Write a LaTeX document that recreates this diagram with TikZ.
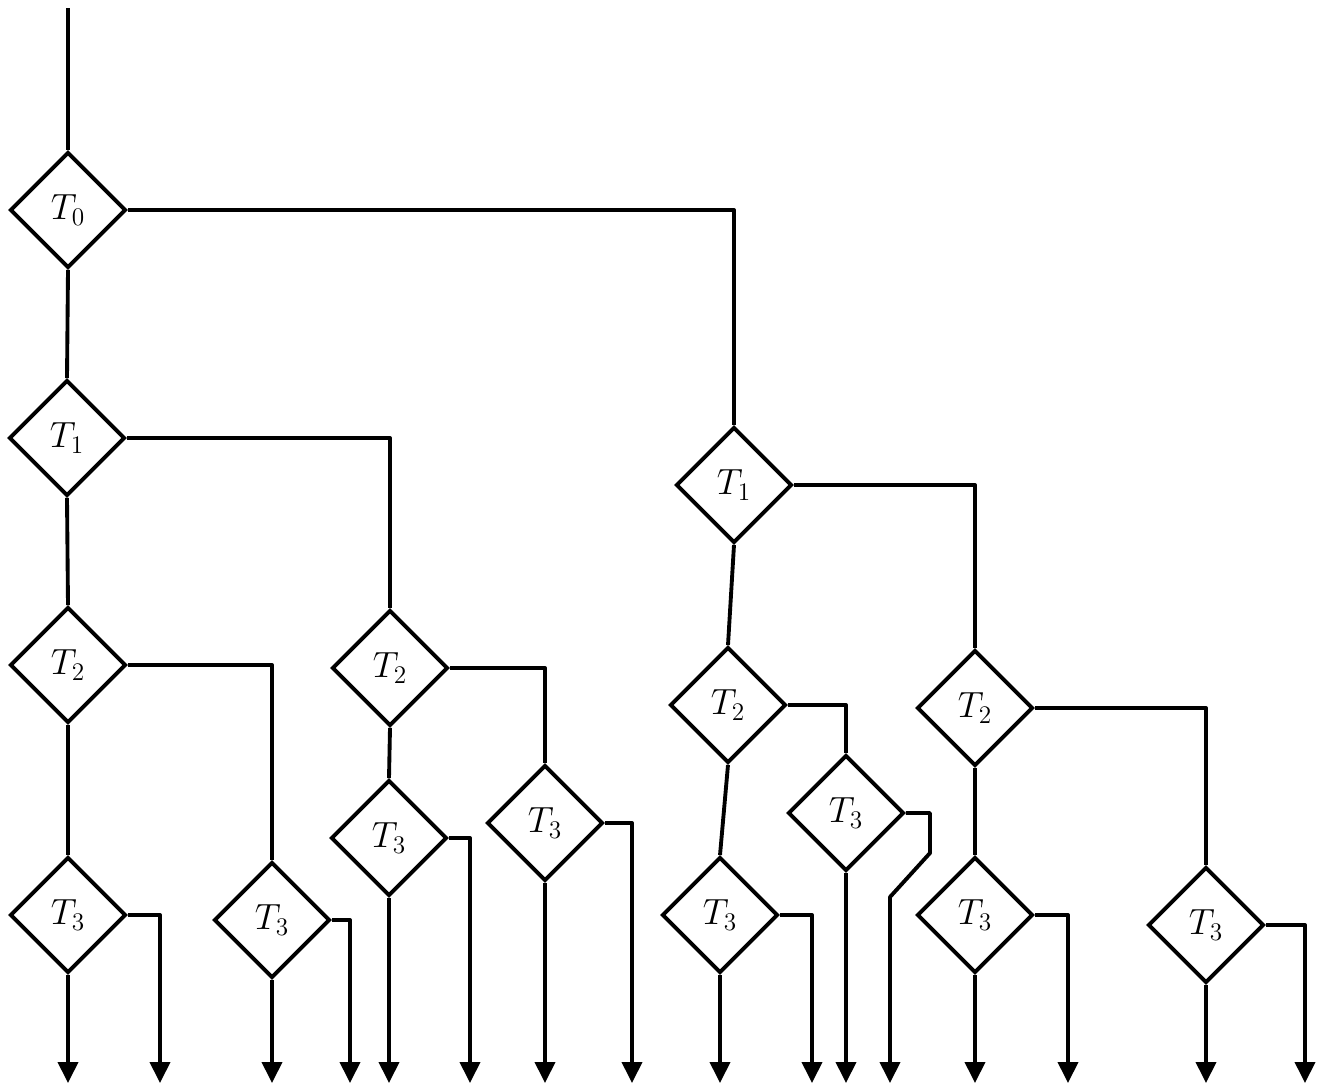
\documentclass[tikz,border=0pt]{standalone}
\usetikzlibrary{shapes.geometric,arrows.meta}
\begin{document}
\begin{tikzpicture}[x=0.02cm,y=-0.02cm,
  test/.style={draw,diamond,line width=2.2pt,minimum width=2.32cm,minimum height=2.32cm,inner sep=0pt,font=\fontsize{22}{26}\selectfont},
  link/.style={line width=2.2pt,line join=round},
  outarrow/.style={link,-{Triangle[width=0.4cm,length=0.42cm]}}]
\useasboundingbox (0,0) rectangle (1332,1089);
% nodes
\node[test] (t0)  at (68,210)  {$T_0$};
\node[test] (t1a) at (67,438)  {$T_1$};
\node[test] (t2a) at (68,665)  {$T_2$};
\node[test] (t3a) at (68,915)  {$T_3$};
\node[test] (t3b) at (272,920) {$T_3$};
\node[test] (t2b) at (390,668) {$T_2$};
\node[test] (t3c) at (389,838) {$T_3$};
\node[test] (t3d) at (545,823) {$T_3$};
\node[test] (t1b) at (734,485) {$T_1$};
\node[test] (t2c) at (728,705) {$T_2$};
\node[test] (t3e) at (720,915) {$T_3$};
\node[test] (t3f) at (846,813) {$T_3$};
\node[test] (t2d) at (975,708) {$T_2$};
\node[test] (t3g) at (975,915) {$T_3$};
\node[test] (t3h) at (1206,925) {$T_3$};
% free ends
\coordinate (top) at (68,8);
\coordinate (e1) at (68,1083);
\coordinate (e2) at (160,1083);
\coordinate (e3) at (272,1083);
\coordinate (e4) at (350,1083);
\coordinate (e5) at (389,1083);
\coordinate (e6) at (470,1083);
\coordinate (e7) at (545,1083);
\coordinate (e8) at (632,1083);
\coordinate (e9) at (720,1083);
\coordinate (e10) at (812,1083);
\coordinate (e11) at (846,1083);
\coordinate (e12) at (890,1083);
\coordinate (e13) at (975,1083);
\coordinate (e14) at (1068,1083);
\coordinate (e15) at (1206,1083);
\coordinate (e16) at (1305,1083);
\coordinate (k1) at (930,853);
\coordinate (k2) at (890,897);
% tree links
\draw[link] (top) -- (t0.north);
\draw[link] (t0.south) -- (t1a.north);
\draw[link] (t0.east) -| (t1b.north);
\draw[link] (t1a.south) -- (t2a.north);
\draw[link] (t1a.east) -| (t2b.north);
\draw[link] (t2a.south) -- (t3a.north);
\draw[link] (t2a.east) -| (t3b.north);
\draw[link] (t2b.south) -- (t3c.north);
\draw[link] (t2b.east) -| (t3d.north);
\draw[link] (t1b.south) -- (t2c.north);
\draw[link] (t1b.east) -| (t2d.north);
\draw[link] (t2c.south) -- (t3e.north);
\draw[link] (t2c.east) -| (t3f.north);
\draw[link] (t2d.south) -- (t3g.north);
\draw[link] (t2d.east) -| (t3h.north);
% outputs
\draw[outarrow] (t3a.south) -- (e1);
\draw[outarrow] (t3a.east) -| (e2);
\draw[outarrow] (t3b.south) -- (e3);
\draw[outarrow] (t3b.east) -| (e4);
\draw[outarrow] (t3c.south) -- (e5);
\draw[outarrow] (t3c.east) -| (e6);
\draw[outarrow] (t3d.south) -- (e7);
\draw[outarrow] (t3d.east) -| (e8);
\draw[outarrow] (t3e.south) -- (e9);
\draw[outarrow] (t3e.east) -| (e10);
\draw[outarrow] (t3f.south) -- (e11);
\draw[outarrow] (t3f.east) -| (k1) -- (k2) -- (e12);
\draw[outarrow] (t3g.south) -- (e13);
\draw[outarrow] (t3g.east) -| (e14);
\draw[outarrow] (t3h.south) -- (e15);
\draw[outarrow] (t3h.east) -| (e16);
\end{tikzpicture}
\end{document}
